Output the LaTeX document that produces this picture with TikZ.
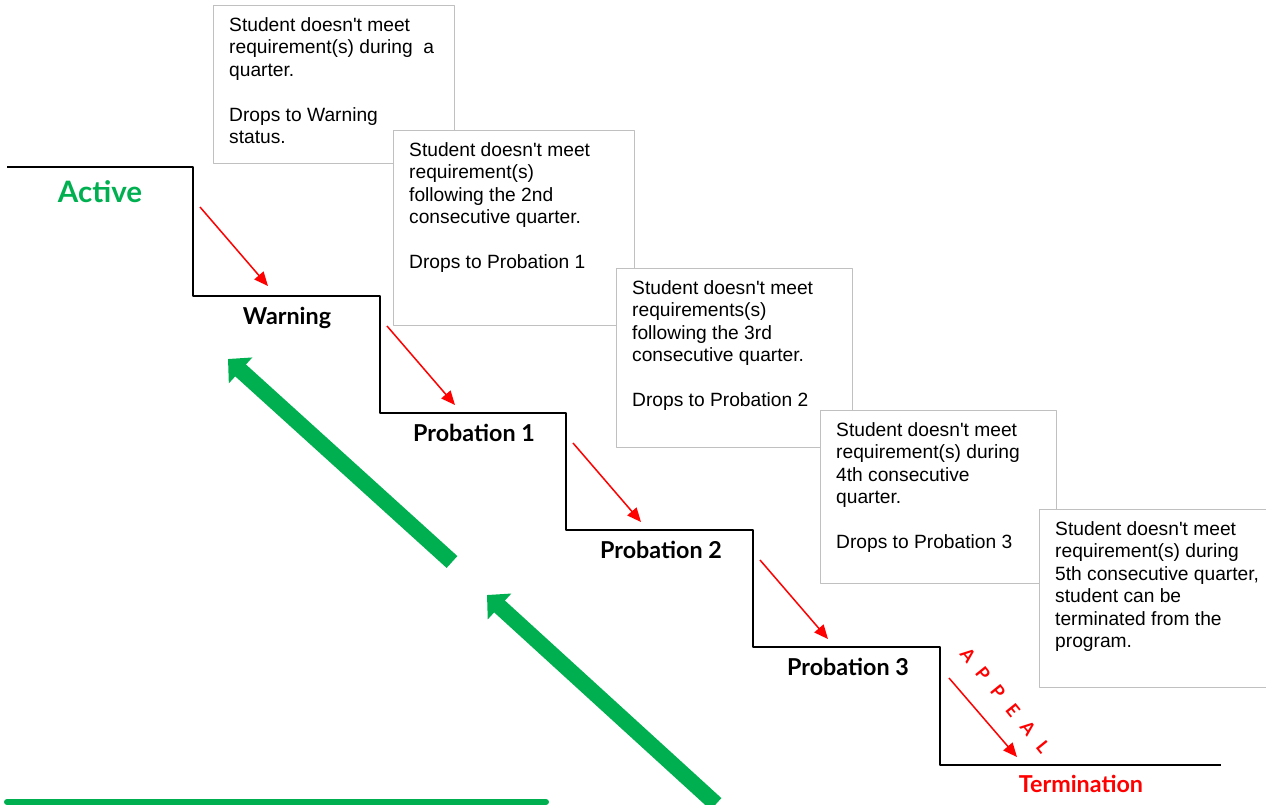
\documentclass[tikz,border=0pt]{standalone}
\usepackage{fontspec}
\setmainfont{Liberation Sans}
\newfontfamily\latofont{Lato}
\usetikzlibrary{arrows.meta}
\definecolor{okgreen}{HTML}{00B050}
\definecolor{boxgray}{HTML}{C0C0C0}
\newcommand{\ap}{\textquotesingle}
\begin{document}
\begin{tikzpicture}[x=1pt, y=-1pt, line join=round,
	card/.style={draw=boxgray, line width=1.3pt, fill=white, anchor=north west, inner sep=0pt},
	cardtext/.style={anchor=north west, align=left, inner sep=0pt, font=\fontsize{19.2}{22.5}\selectfont},
	level/.style={anchor=base, font=\latofont\bfseries\fontsize{23.3}{26}\selectfont},
	drop/.style={draw=red, line width=1.5pt, -{Triangle[length=14pt,width=12pt]}},
	climb/.style={draw=okgreen, line width=16pt, -{Triangle[length=17pt,width=34pt]}}]
	\useasboundingbox (0,0) rectangle (1266,804);
	\clip (0,0) rectangle (1266,804);
	% the cards, each one over the one before
	\node[card, minimum width=241pt, minimum height=158pt] (c1) at (213,5) {};
	\node[cardtext] (t1) at ([shift={(16,12)}]c1.north west) {Student doesn\ap t meet\\requirement(s) during\ \ a\\quarter.\\[22.5pt]Drops to Warning\\status.};
	\node[card, minimum width=241pt, minimum height=195pt] (c2) at (393,130) {};
	\node[cardtext] (t2) at ([shift={(16,12)}]c2.north west) {Student doesn\ap t meet\\requirement(s)\\following the 2nd\\consecutive quarter.\\[22.5pt]Drops to Probation 1};
	\node[card, minimum width=236pt, minimum height=179pt] (c3) at (616,268) {};
	\node[cardtext] (t3) at ([shift={(16,12)}]c3.north west) {Student doesn\ap t meet\\requirements(s)\\following the 3rd\\consecutive quarter.\\[22.5pt]Drops to Probation 2};
	\node[card, minimum width=236pt, minimum height=173pt] (c4) at (820,410) {};
	\node[cardtext] (t4) at ([shift={(16,12)}]c4.north west) {Student doesn\ap t meet\\requirement(s) during\\4th consecutive\\quarter.\\[22.5pt]Drops to Probation 3};
	\node[card, minimum width=240pt, minimum height=178pt] (c5) at (1039,509) {};
	\node[cardtext] (t5) at ([shift={(16,12)}]c5.north west) {Student doesn\ap t meet\\requirement(s) during\\5th consecutive quarter,\\student can be\\terminated from the\\program.};
	% stairs
	\draw[line width=2.3pt] (7,167) -| (193,296) -| (380,413) -| (566,530) -| (753,647) -| (940,765) -- (1221,765);
	\node[level, text=okgreen, font=\latofont\bfseries\fontsize{29.5}{32}\selectfont] (active) at (100,202) {Active};
	\node[level] (warning) at (287,324) {Warning};
	\node[level] (prob1) at (474,441) {Probation 1};
	\node[level] (prob2) at (661,558) {Probation 2};
	\node[level] (prob3) at (848,675) {Probation 3};
	\node[level, text=red] (term) at (1081,792) {Termination};
	\foreach \x/\y in {200/207, 387/326, 573/443, 760/560, 949/678}
	\draw[drop] (\x,\y) -- ++(68,79);
	\foreach \ch [count=\i from 0] in {A,P,P,E,A,L}
	\node[text=red, rotate=-51, inner sep=0pt, font=\latofont\bfseries\fontsize{18}{20}\selectfont] (ap\i) at ({968+15*\i},{655+18.4*\i}) {\ch};
	% back up
	\draw[climb] (452,562) -- (228,359);
	\draw[climb] (716,804) -- (487,595);
	\draw[okgreen, line width=6pt, line cap=round] (7,802) -- (546,802);
\end{tikzpicture}
\end{document}
